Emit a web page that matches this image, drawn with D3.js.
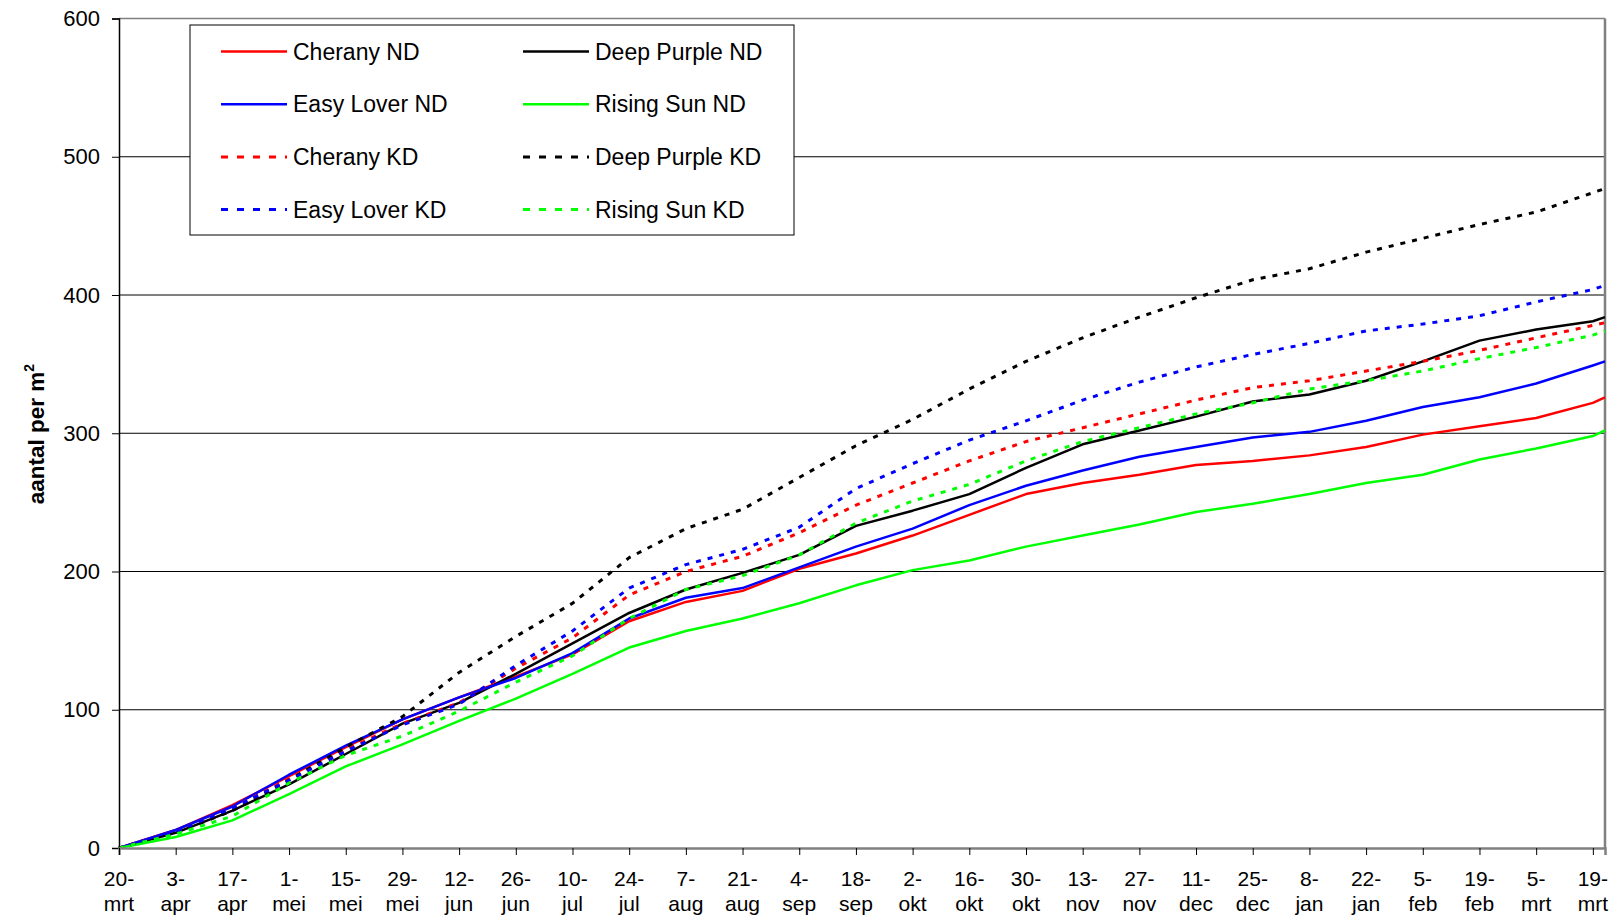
<!DOCTYPE html>
<html>
<head>
<meta charset="utf-8">
<script src="https://cdn.jsdelivr.net/npm/d3@7"></script>
<style>
  body { margin: 0; background: #fff; }
  svg { font-family: Arial, "Liberation Sans", sans-serif; }
</style>
</head>
<body>
<svg width="1619" height="920"></svg>
<script>
// days since 20-mrt, read every two weeks
const days = [0, 14, 28, 42, 56, 70, 84, 98, 112, 126, 140, 154, 168, 182, 196, 210, 224, 238, 252, 266, 280, 294, 308, 322, 336, 350, 364, 367];

const cheranyND    = [0, 13, 31, 52, 73, 93, 109, 124, 140, 164, 178, 186, 202, 213, 226, 241, 256, 264, 270, 277, 280, 284, 290, 299, 305, 311, 322, 326];
const deepPurpleND = [0, 11, 27, 46, 68, 90, 105, 126, 148, 170, 187, 199, 212, 233, 244, 256, 275, 292, 302, 312, 323, 328, 338, 352, 367, 375, 381, 384];
const easyLoverND  = [0, 13, 30, 53, 74, 93, 109, 123, 141, 166, 181, 188, 203, 218, 231, 248, 262, 273, 283, 290, 297, 301, 309, 319, 326, 336, 349, 352];
const risingSunND  = [0, 8, 20, 39, 59, 75, 92, 108, 126, 145, 157, 166, 177, 190, 201, 208, 218, 226, 234, 243, 249, 256, 264, 270, 281, 289, 298, 302];
const cheranyKD    = [0, 12, 29, 50, 71, 90, 105, 130, 152, 183, 200, 211, 228, 248, 264, 280, 294, 304, 314, 324, 333, 338, 345, 352, 360, 369, 378, 380];
const deepPurpleKD = [0, 11, 27, 49, 73, 95, 127, 153, 177, 210, 231, 245, 268, 291, 310, 332, 352, 369, 384, 398, 411, 419, 431, 441, 451, 460, 474, 477];
const easyLoverKD  = [0, 12, 29, 49, 70, 89, 104, 132, 157, 188, 205, 216, 232, 260, 278, 295, 309, 324, 337, 348, 357, 365, 374, 379, 385, 395, 404, 407];
const risingSunKD  = [0, 10, 23, 47, 67, 81, 99, 120, 139, 166, 187, 197, 212, 235, 251, 263, 280, 294, 304, 314, 322, 332, 338, 345, 354, 362, 371, 374];

const tickDays = [0, 14, 28, 42, 56, 70, 84, 98, 112, 126, 140, 154, 168, 182, 196, 210, 224, 238, 252, 266, 280, 294, 308, 322, 336, 350, 364];
const tickDate = ['20-','3-','17-','1-','15-','29-','12-','26-','10-','24-','7-','21-','4-','18-','2-','16-','30-','13-','27-','11-','25-','8-','22-','5-','19-','5-','19-'];
const tickMonth = ['mrt','apr','apr','mei','mei','mei','jun','jun','jul','jul','aug','aug','sep','sep','okt','okt','okt','nov','nov','dec','dec','jan','jan','feb','feb','mrt','mrt'];

const yTicks = [0, 100, 200, 300, 400, 500, 600];

const series = [
  { name: 'Cherany ND', values: cheranyND, color: '#ff0000', dashed: false },
  { name: 'Deep Purple ND', values: deepPurpleND, color: '#000000', dashed: false },
  { name: 'Easy Lover ND', values: easyLoverND, color: '#0000ff', dashed: false },
  { name: 'Rising Sun ND', values: risingSunND, color: '#00ff00', dashed: false },
  { name: 'Cherany KD', values: cheranyKD, color: '#ff0000', dashed: true },
  { name: 'Deep Purple KD', values: deepPurpleKD, color: '#000000', dashed: true },
  { name: 'Easy Lover KD', values: easyLoverKD, color: '#0000ff', dashed: true },
  { name: 'Rising Sun KD', values: risingSunKD, color: '#00ff00', dashed: true }
];

const svg = d3.select('svg');

const plotLeft = 119, plotRight = 1605, plotTop = 18.5, plotBottom = 848;

const x = d3.scaleLinear().domain([0, 367]).range([plotLeft, plotRight]);
const y = d3.scaleLinear().domain([0, 600]).range([plotBottom, plotTop]);

// gridlines
svg.append('g')
  .selectAll('line')
  .data(yTicks.filter(d => d > 0 && d < 600))
  .join('line')
  .attr('x1', plotLeft).attr('x2', plotRight)
  .attr('y1', d => y(d)).attr('y2', d => y(d))
  .attr('stroke', '#000')
  .attr('stroke-width', 1);

// plot border top / right
svg.append('line')
  .attr('x1', plotLeft).attr('x2', plotRight)
  .attr('y1', y(600)).attr('y2', y(600))
  .attr('stroke', '#808080').attr('stroke-width', 1.5);
svg.append('line')
  .attr('x1', plotRight).attr('x2', plotRight)
  .attr('y1', y(600)).attr('y2', y(0))
  .attr('stroke', '#808080').attr('stroke-width', 2.5);

// series
const line = d3.line()
  .x((d, i) => x(days[i]))
  .y(d => y(d));

svg.append('g')
  .selectAll('path')
  .data(series)
  .join('path')
  .attr('d', d => line(d.values))
  .attr('fill', 'none')
  .attr('stroke', d => d.color)
  .attr('stroke-width', d => d.dashed ? 3 : 2.5)
  .attr('stroke-dasharray', d => d.dashed ? '5,7' : null)
  .attr('stroke-linejoin', 'round');

// y axis
const yAxis = svg.append('g')
  .attr('transform', `translate(${plotLeft},0)`)
  .call(d3.axisLeft(y).tickValues(yTicks).tickSize(7).tickPadding(12).tickFormat(d3.format('d')));
yAxis.select('.domain').attr('stroke', '#000').attr('stroke-width', 1.5);
yAxis.selectAll('.tick line').attr('stroke', '#000');
yAxis.selectAll('.tick text')
  .attr('font-size', 22)
  .attr('font-family', 'Arial, "Liberation Sans", sans-serif')
  .attr('fill', '#000');

// x axis
const xAxis = svg.append('g')
  .attr('transform', `translate(0,${plotBottom})`)
  .call(d3.axisBottom(x).tickValues(tickDays).tickSize(7).tickFormat(''));
xAxis.select('.domain').attr('stroke', '#808080').attr('stroke-width', 2.5);
xAxis.selectAll('.tick line').attr('stroke', '#000');

const xLabels = svg.append('g')
  .attr('font-size', 21)
  .attr('text-anchor', 'middle')
  .attr('fill', '#000');
xLabels.selectAll('text')
  .data(tickDays)
  .join('text')
  .attr('x', d => x(d))
  .attr('y', 886)
  .each(function (d, i) {
    const t = d3.select(this);
    t.append('tspan').attr('x', x(d)).attr('dy', 0).text(tickDate[i]);
    t.append('tspan').attr('x', x(d)).attr('dy', 25).text(tickMonth[i]);
  });

// y axis title
const yTitle = svg.append('text')
  .attr('transform', 'translate(44,434) rotate(-90)')
  .attr('text-anchor', 'middle')
  .attr('font-size', 22.5)
  .attr('font-weight', 'bold')
  .attr('fill', '#000');
yTitle.append('tspan').text('aantal per m');
yTitle.append('tspan').attr('font-size', 14).attr('dy', -10).text('2');

// legend
const legend = svg.append('g');
legend.append('rect')
  .attr('x', 190).attr('y', 25)
  .attr('width', 604).attr('height', 210)
  .attr('fill', '#fff')
  .attr('stroke', '#000')
  .attr('stroke-width', 1);

const legendItems = legend.selectAll('g.item')
  .data(series)
  .join('g')
  .attr('class', 'item')
  .attr('transform', (d, i) => {
    const col = i % 2 === 0 ? 0 : 1;
    const row = Math.floor(i / 2);
    return `translate(${col === 0 ? 221 : 523},${51.5 + row * 52.7})`;
  });

legendItems.append('line')
  .attr('x1', 0).attr('x2', 66)
  .attr('stroke', d => d.color)
  .attr('stroke-width', d => d.dashed ? 3 : 2.5)
  .attr('stroke-dasharray', d => d.dashed ? '7,9' : null);

legendItems.append('text')
  .attr('x', 72)
  .attr('dy', '0.35em')
  .attr('font-size', 23)
  .attr('fill', '#000')
  .text(d => d.name);
</script>
</body>
</html>
